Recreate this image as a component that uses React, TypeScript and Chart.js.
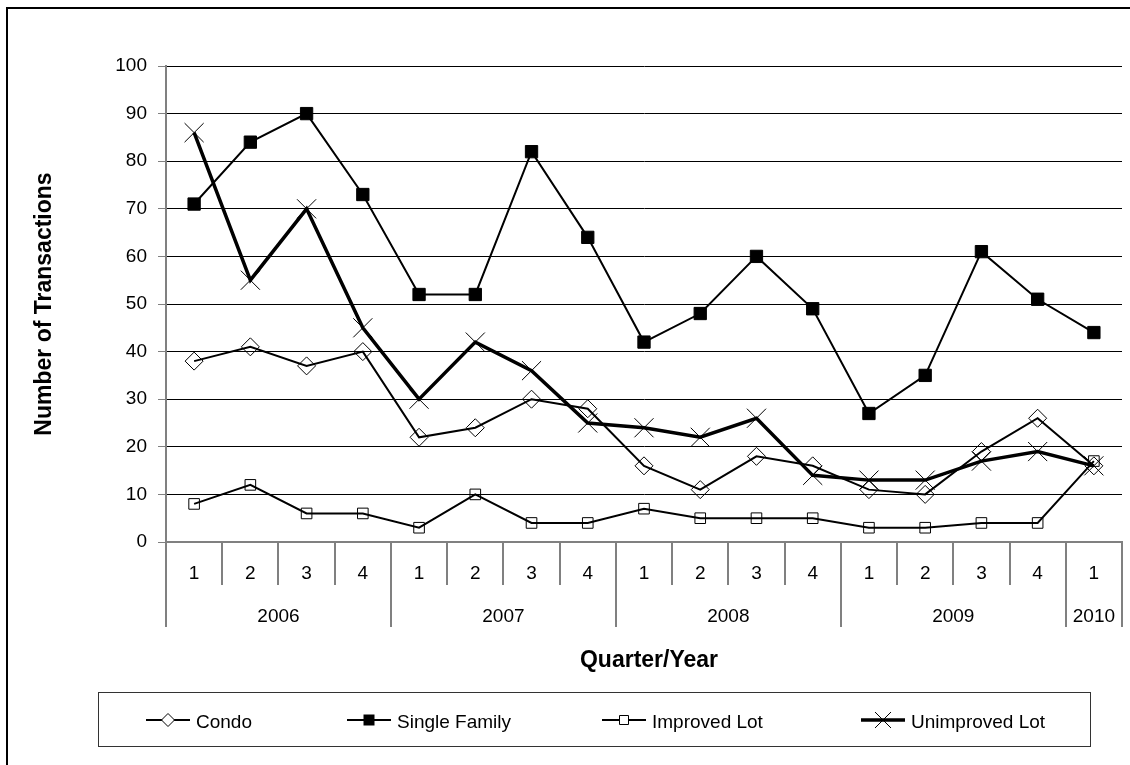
import React, { useEffect, useRef } from 'react';
import { Chart, registerables } from 'chart.js';

Chart.register(...registerables);

// ---- data ----
const quarters = ['1', '2', '3', '4', '1', '2', '3', '4', '1', '2', '3', '4', '1', '2', '3', '4', '1'];
const years = ['2006', '2006', '2006', '2006', '2007', '2007', '2007', '2007', '2008', '2008', '2008', '2008', '2009', '2009', '2009', '2009', '2010'];
const condo = [38, 41, 37, 40, 22, 24, 30, 28, 16, 11, 18, 16, 11, 10, 19, 26, 16];
const singleFamily = [71, 84, 90, 73, 52, 52, 82, 64, 42, 48, 60, 49, 27, 35, 61, 51, 44];
const improvedLot = [8, 12, 6, 6, 3, 10, 4, 4, 7, 5, 5, 5, 3, 3, 4, 4, 17];
const unimprovedLot = [86, 55, 70, 45, 30, 42, 36, 25, 24, 22, 26, 14, 13, 13, 17, 19, 16];
const seriesNames = ['Condo', 'Single Family', 'Improved Lot', 'Unimproved Lot'];
const yMin = 0;
const yMax = 100;
const yStep = 10;
const xTitle = 'Quarter/Year';
const yTitle = 'Number of Transactions';

const FONT = "'Liberation Sans', Arial, sans-serif";
const AXIS_GRAY = '#808080';

type Marker = 'diamond' | 'filledSquare' | 'openSquare' | 'x';

function drawMarker(ctx: CanvasRenderingContext2D, kind: Marker, x: number, y: number, s: number) {
  ctx.save();
  ctx.strokeStyle = '#000';
  ctx.lineWidth = 1;
  ctx.beginPath();
  if (kind === 'diamond') {
    ctx.moveTo(x - s, y);
    ctx.lineTo(x, y - s);
    ctx.lineTo(x + s, y);
    ctx.lineTo(x, y + s);
    ctx.closePath();
    ctx.fillStyle = '#fff';
    ctx.fill();
    ctx.stroke();
  } else if (kind === 'filledSquare') {
    ctx.rect(x - s, y - s, 2 * s, 2 * s);
    ctx.fillStyle = '#000';
    ctx.fill();
  } else if (kind === 'openSquare') {
    ctx.rect(x - s + 0.5, y - s + 0.5, 2 * s - 1, 2 * s - 1);
    ctx.fillStyle = '#fff';
    ctx.fill();
    ctx.stroke();
  } else {
    ctx.moveTo(x - s, y - s);
    ctx.lineTo(x + s, y + s);
    ctx.moveTo(x + s, y - s);
    ctx.lineTo(x - s, y + s);
    ctx.stroke();
  }
  ctx.restore();
}

const overlayPlugin = {
  id: 'overlay',
  afterDraw(chart: any) {
    const ctx: CanvasRenderingContext2D = chart.ctx;
    const xs = chart.scales.x;
    const area = chart.chartArea;
    const n = quarters.length;
    const step = xs.getPixelForValue(1) - xs.getPixelForValue(0);
    const boundary = (k: number) => xs.getPixelForValue(0) - step / 2 + k * step;
    const axisY = area.bottom;

    ctx.save();

    // outer chart border (extends past the viewport on right/bottom)
    ctx.strokeStyle = '#000';
    ctx.lineWidth = 2;
    ctx.strokeRect(7, 8, 2000, 2000);

    // category separators (quarters short, years long)
    ctx.strokeStyle = AXIS_GRAY;
    ctx.lineWidth = 2;
    for (let k = 0; k <= n; k++) {
      const isYear = k === 0 || k === n || years[k] !== years[k - 1];
      const len = isYear ? 85 : 43;
      const x = Math.round(boundary(k));
      ctx.beginPath();
      ctx.moveTo(x, axisY);
      ctx.lineTo(x, axisY + len);
      ctx.stroke();
    }

    // quarter labels
    ctx.fillStyle = '#000';
    ctx.font = `19px ${FONT}`;
    ctx.textAlign = 'center';
    ctx.textBaseline = 'alphabetic';
    for (let i = 0; i < n; i++) {
      ctx.fillText(quarters[i], xs.getPixelForValue(i), axisY + 37);
    }
    // year labels
    let start = 0;
    for (let i = 1; i <= n; i++) {
      if (i === n || years[i] !== years[start]) {
        const cx = (boundary(start) + boundary(i)) / 2;
        ctx.fillText(years[start], cx, axisY + 80);
        start = i;
      }
    }

    // axis titles
    ctx.font = `bold 23px ${FONT}`;
    ctx.textAlign = 'center';
    ctx.textBaseline = 'alphabetic';
    ctx.fillText(xTitle, 649, 667);
    ctx.save();
    ctx.translate(51, (area.top + area.bottom) / 2);
    ctx.rotate(-Math.PI / 2);
    ctx.fillText(yTitle, 0, 0);
    ctx.restore();

    // legend box
    ctx.strokeStyle = '#333';
    ctx.lineWidth = 1;
    ctx.strokeRect(98.5, 692.5, 992, 54);

    const legendX = [146, 347, 602, 861];
    const markers: Marker[] = ['diamond', 'filledSquare', 'openSquare', 'x'];
    const markerSize = [6.5, 5.5, 5, 8];
    const lineW = [2, 2, 2, 3.5];
    const ly = 720;
    ctx.font = `19px ${FONT}`;
    ctx.textAlign = 'left';
    for (let i = 0; i < seriesNames.length; i++) {
      const x0 = legendX[i];
      ctx.strokeStyle = '#000';
      ctx.lineWidth = lineW[i];
      ctx.beginPath();
      ctx.moveTo(x0, ly);
      ctx.lineTo(x0 + 44, ly);
      ctx.stroke();
      drawMarker(ctx, markers[i], x0 + 22, ly, markerSize[i]);
      ctx.fillStyle = '#000';
      ctx.fillText(seriesNames[i], x0 + 50, ly + 8);
    }

    ctx.restore();
  },
};

export default function App() {
  const canvasRef = useRef<HTMLCanvasElement | null>(null);

  useEffect(() => {
    const canvas = canvasRef.current;
    if (!canvas) return;
    Chart.defaults.font.family = FONT;
    const clear = 'rgba(0,0,0,0)';
    const chart = new Chart(canvas, {
      type: 'line',
      data: {
        labels: quarters,
        datasets: [
          {
            label: seriesNames[0],
            data: condo,
            borderColor: '#000',
            borderWidth: 2,
            pointStyle: 'rectRot',
            pointRadius: 9,
            pointBackgroundColor: clear,
            pointBorderColor: '#000',
            pointBorderWidth: 1,
            tension: 0,
            fill: false,
          },
          {
            label: seriesNames[1],
            data: singleFamily,
            borderColor: '#000',
            borderWidth: 2,
            pointStyle: 'rect',
            pointRadius: 8.7,
            pointBackgroundColor: '#000',
            pointBorderColor: '#000',
            pointBorderWidth: 1,
            tension: 0,
            fill: false,
          },
          {
            label: seriesNames[2],
            data: improvedLot,
            borderColor: '#000',
            borderWidth: 2,
            pointStyle: 'rect',
            pointRadius: 7.5,
            pointBackgroundColor: clear,
            pointBorderColor: '#000',
            pointBorderWidth: 1,
            tension: 0,
            fill: false,
          },
          {
            label: seriesNames[3],
            data: unimprovedLot,
            borderColor: '#000',
            borderWidth: 3.5,
            pointStyle: 'crossRot',
            pointRadius: 13.5,
            pointBackgroundColor: clear,
            pointBorderColor: '#000',
            pointBorderWidth: 1,
            tension: 0,
            fill: false,
          },
        ],
      },
      options: {
        responsive: false,
        animation: false,
        devicePixelRatio: 1,
        layout: { autoPadding: false, padding: { left: 0, top: 66, right: 8, bottom: 0 } },
        plugins: {
          legend: { display: false },
          title: { display: false },
          tooltip: { enabled: false },
        },
        scales: {
          x: {
            type: 'category',
            offset: true,
            grid: { display: false },
            border: { display: true, color: AXIS_GRAY, width: 2 },
            ticks: { display: false },
            afterFit: (scale: any) => {
              scale.height = 223;
            },
          },
          y: {
            min: yMin,
            max: yMax,
            grid: {
              color: (c: any) => (c.tick && c.tick.value === 0 ? clear : '#000'),
              lineWidth: 1,
              tickColor: AXIS_GRAY,
              tickLength: 8,
              tickWidth: 1,
            },
            border: { display: true, color: AXIS_GRAY, width: 2 },
            ticks: {
              stepSize: yStep,
              color: '#000',
              padding: 11,
              font: { size: 19, family: FONT },
            },
            afterFit: (scale: any) => {
              scale.width = 166;
            },
          },
        },
      },
      plugins: [overlayPlugin],
    } as any);
    return () => chart.destroy();
  }, []);

  return (
    <div style={{ position: 'absolute', left: 0, top: 0, width: 1130, height: 765, background: '#fff' }}>
      <canvas ref={canvasRef} width={1130} height={765} style={{ display: 'block' }} />
    </div>
  );
}
